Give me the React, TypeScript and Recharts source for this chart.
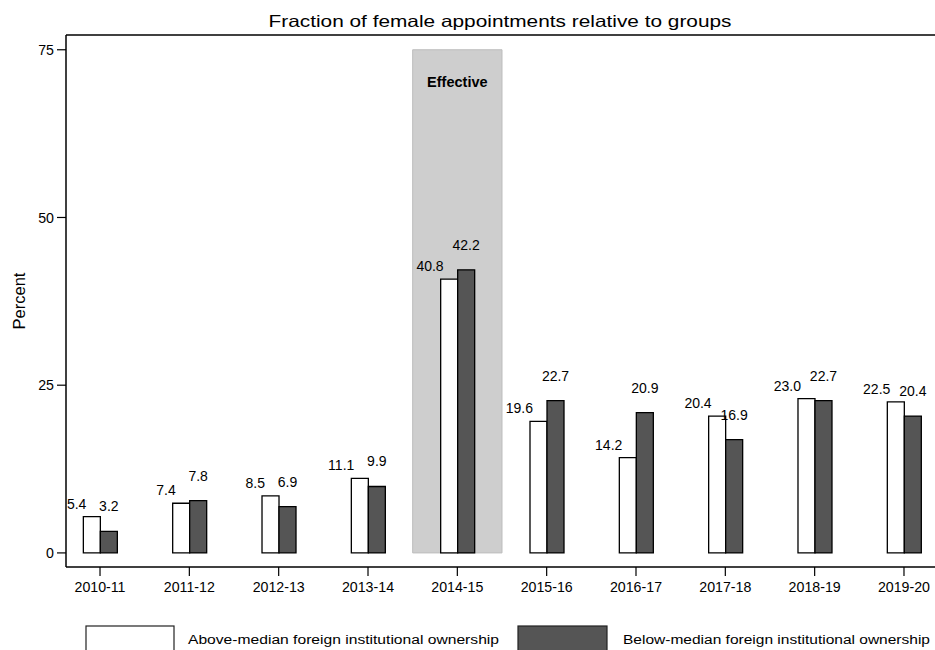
import React from 'react';
import { BarChart, Bar, XAxis, YAxis, ReferenceArea, ReferenceLine, LabelList, Legend } from 'recharts';

const categories = ['2010-11', '2011-12', '2012-13', '2013-14', '2014-15', '2015-16', '2016-17', '2017-18', '2018-19', '2019-20'];
const aboveMedian = [5.4, 7.4, 8.5, 11.1, 40.8, 19.6, 14.2, 20.4, 23.0, 22.5];
const belowMedian = [3.2, 7.8, 6.9, 9.9, 42.2, 22.7, 20.9, 16.9, 22.7, 20.4];
const yTicks = [0, 25, 50, 75];
const effectiveYear = '2014-15';
const effectiveTop = 75;

const Y_MIN = -2.1;
const Y_MAX = 77.2;

const data = categories.map((cat, i) => ({ cat, above: aboveMedian[i], below: belowMedian[i] }));

const FONT = '"Liberation Sans", Arial, Helvetica, sans-serif';

const AboveLabel = (props: any) => {
  const { x, y, value } = props;
  return (
    <text x={x + 3} y={y - 13} textAnchor="end" dominantBaseline="central" fontSize={14} fill="#000" fontFamily={FONT}>
      {Number(value).toFixed(1)}
    </text>
  );
};

const BelowLabel = (props: any) => {
  const { x, y, width, value } = props;
  return (
    <text x={x + width / 2} y={y - 25} textAnchor="middle" dominantBaseline="central" fontSize={14} fill="#000" fontFamily={FONT}>
      {Number(value).toFixed(1)}
    </text>
  );
};

const renderLegend = (props: any) => {
  const payload = props.payload || [];
  const items = [
    { name: 'Above-median foreign institutional ownership', fill: '#ffffff', rx: 86, rw: 88, tx: 188, tl: 311 },
    { name: 'Below-median foreign institutional ownership', fill: '#555555', rx: 518, rw: 89, tx: 623, tl: 307 },
  ];
  return (
    <svg width={935} height={30} style={{ display: 'block' }}>
      {items.map((it, i) => {
        const p = payload[i];
        const name = p && p.value ? p.value : it.name;
        const fill = p && p.color ? p.color : it.fill;
        return (
          <g key={i}>
            <rect x={it.rx} y={6} width={it.rw} height={30} fill={fill} stroke="#222" strokeWidth={1.2} />
            <text x={it.tx} y={24} fontSize={12.5} fontFamily={FONT} fill="#000" textLength={it.tl} lengthAdjust="spacingAndGlyphs">
              {name}
            </text>
          </g>
        );
      })}
    </svg>
  );
};

const PercentLabel = (props: any) => {
  const vb = props.viewBox || { x: 0, y: 35, width: 66, height: 532 };
  const cx = vb.x + 19;
  const cy = vb.y + vb.height / 2;
  return (
    <text x={cx} y={cy} transform={`rotate(-90 ${cx} ${cy})`} textAnchor="middle" dominantBaseline="central" fontSize={16.5} fontFamily={FONT} fill="#000">
      Percent
    </text>
  );
};

export default function App() {
  return (
    <div style={{ position: 'absolute', left: 0, top: 0, width: 935, height: 650, overflow: 'hidden', background: '#fff' }}>
      <BarChart
        width={960}
        height={650}
        data={data}
        margin={{ top: 35, right: 11.35, bottom: 0, left: 0 }}
        barGap={0}
        barSize={17}
        style={{ fontFamily: FONT }}
      >
        <text x={500} y={27} textAnchor="middle" fontSize={16.5} fontFamily={FONT} fill="#000" textLength={463} lengthAdjust="spacingAndGlyphs">
          Fraction of female appointments relative to groups
        </text>
        <XAxis
          dataKey="cat"
          height={83}
          padding={{ left: -10.65, right: 0 }}
          tickLine={{ stroke: '#000', strokeWidth: 1.2 }}
          axisLine={{ stroke: '#000', strokeWidth: 1.5 }}
          tickSize={9}
          tickMargin={6}
          tick={{ fill: '#000', fontSize: 14.2, fontFamily: FONT }}
          interval={0}
        />
        <YAxis
          width={66}
          domain={[Y_MIN, Y_MAX]}
          ticks={yTicks}
          allowDataOverflow
          tickLine={{ stroke: '#000', strokeWidth: 1.2 }}
          axisLine={{ stroke: '#000', strokeWidth: 1.5 }}
          tickSize={9}
          tickMargin={3}
          tick={{ fill: '#000', fontSize: 14.2, fontFamily: FONT }}
          label={{ content: PercentLabel }}
        />
        <ReferenceLine y={Y_MAX} stroke="#000" strokeWidth={1.5} />
        <ReferenceArea
          x1={effectiveYear}
          x2={effectiveYear}
          y1={0}
          y2={effectiveTop}
          fill="#cecece"
          fillOpacity={1}
          stroke="#bdbdbd"
          strokeWidth={1}
          label={{ value: 'Effective', position: 'insideTop', offset: 27, fontWeight: 'bold', fontSize: 14.5, fill: '#000', fontFamily: FONT }}
        />
        <Bar dataKey="above" name="Above-median foreign institutional ownership" fill="#ffffff" stroke="#000" strokeWidth={1.3} isAnimationActive={false}>
          <LabelList dataKey="above" content={AboveLabel} />
        </Bar>
        <Bar dataKey="below" name="Below-median foreign institutional ownership" fill="#555555" stroke="#000" strokeWidth={1.3} isAnimationActive={false}>
          <LabelList dataKey="below" content={BelowLabel} />
        </Bar>
        <Legend
          content={renderLegend}
          layout="horizontal"
          verticalAlign="middle"
          align="center"
          wrapperStyle={{ top: 620, left: 0, width: 935, height: 30 }}
        />
      </BarChart>
    </div>
  );
}
